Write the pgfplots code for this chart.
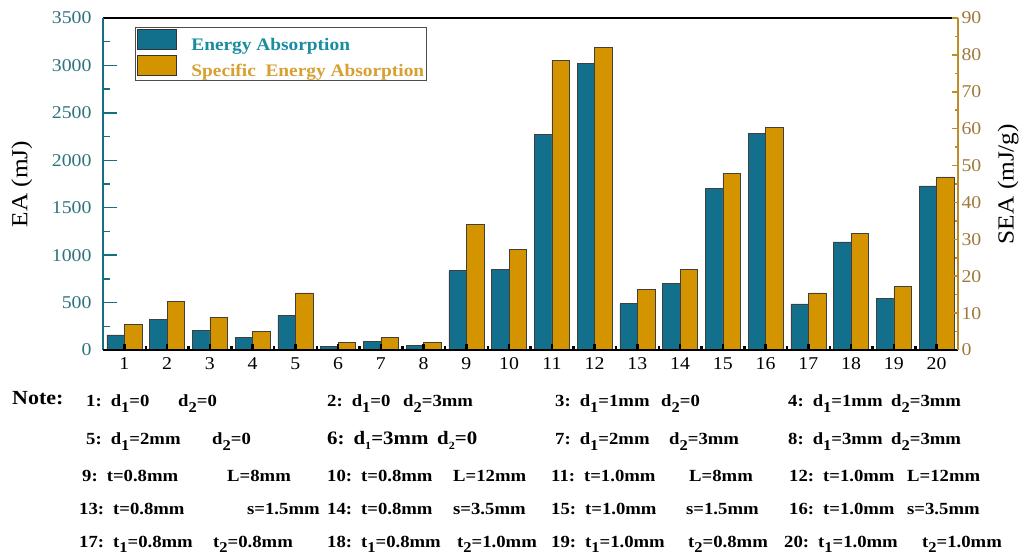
\documentclass[border=0pt]{standalone}
\usepackage{fontspec}
\setmainfont{Liberation Serif}[FakeStretch=1.1]
\usepackage{pgfplots}
\usepackage{pgfplotstable}
\pgfplotsset{compat=1.18}

\definecolor{eaC}{RGB}{18,112,140}
\definecolor{seaC}{RGB}{212,148,0}
\definecolor{eaAx}{RGB}{20,112,128}
\definecolor{eaTxt}{RGB}{45,115,125}
\definecolor{seaAx}{RGB}{190,140,40}
\definecolor{seaTxt}{RGB}{160,120,60}
\definecolor{eaLeg}{RGB}{25,140,160}
\definecolor{seaLeg}{RGB}{215,160,50}

\newcommand\fs[1]{\fontsize{#1}{#1}\selectfont}
\newcommand\sub[1]{\raisebox{-0.32em}{\fs{15}#1}}
\newcommand\subs[1]{\raisebox{-0.25em}{\fs{11}#1}}

\pgfplotstableread{
x  ea    sea
1  160   7.0
2  320   13.1
3  205   8.9
4  130   5.1
5  365   15.5
6  40    2.0
7  90    3.4
8  50    2.0
9  835   34.1
10 850   27.3
11 2270  78.6
12 3020  82.1
13 490   16.5
14 700   21.9
15 1700  47.8
16 2285  60.3
17 485   15.5
18 1140  31.5
19 540   17.2
20 1730  46.9
}\datatable

\begin{document}
\begin{tikzpicture}[x=1pt,y=1pt]
\useasboundingbox (0pt,0pt) rectangle (1019pt,551pt);
\begin{axis}[
  at={(103pt,201pt)}, anchor=south west,
  width=855pt, height=332pt, scale only axis,
  xmin=0.5, xmax=20.5, ymin=0, ymax=3500,
  separate axis lines,
  axis x line*=box, axis y line*=left,
  x axis line style={black, line width=2pt, -},
  y axis line style={eaAx, line width=2pt, -},
  tick align=inside,
  xtick={1,...,20}, xtick pos=left, minor x tick num=1,
  xtick style={black, line width=2.5pt, /pgfplots/major tick length=6pt, /pgfplots/minor tick length=4pt},
  ytick={0,500,...,3500}, ytick pos=left, minor y tick num=1,
  ytick style={eaAx, line width=1.5pt, /pgfplots/major tick length=14pt, /pgfplots/minor tick length=7pt},
  /pgf/number format/assume math mode=true,
  /pgf/number format/1000 sep={},
  xticklabel style={font=\fs{18}, black, yshift=-4pt},
  yticklabel style={font=\fs{18}, eaTxt, xshift=-8pt},
  ylabel={EA (mJ)},
  ylabel style={font=\fs{23}, black, at={(axis description cs:-0.095,0.5)}, anchor=center},
  axis on top,
]
\addplot[ybar, bar width=17.5pt, bar shift=-8.75pt, fill=eaC, draw=black!75, line width=0.6pt]
  table[x=x, y=ea]{\datatable};
\end{axis}

\begin{axis}[
  at={(103pt,201pt)}, anchor=south west,
  width=855pt, height=332pt, scale only axis,
  xmin=0.5, xmax=20.5, ymin=0, ymax=90,
  separate axis lines,
  axis x line*=bottom, axis y line*=right,
  x axis line style={black, line width=2pt, -},
  y axis line style={seaAx, line width=2pt, -},
  tick align=inside,
  xtick={1,...,20}, xticklabels={}, xtick pos=left, minor x tick num=1,
  xtick style={black, line width=2.5pt, /pgfplots/major tick length=6pt, /pgfplots/minor tick length=4pt},
  ytick={0,10,...,90}, ytick pos=right, yticklabel pos=right, minor y tick num=1,
  ytick style={seaAx, line width=1.5pt, /pgfplots/major tick length=6pt, /pgfplots/minor tick length=3pt},
  /pgf/number format/assume math mode=true,
  yticklabel style={font=\fs{18}, seaTxt},
  ylabel={SEA (mJ/g)},
  ylabel style={font=\fs{23}, black, at={(axis description cs:1.0585,0.5)}, anchor=center},
  axis on top,
  legend image code/.code={\draw[#1, draw=black!80, line width=0.8pt] (0pt,-4.5pt) rectangle (39pt,15.5pt); \path (53pt,0pt);},
  legend style={at={(axis description cs:0.0374,0.973)}, anchor=north west,
    draw=black!70, line width=1pt, inner xsep=2pt, inner ysep=2pt, row sep=3pt,
    font=\bfseries\fs{17.6}, cells={anchor=west}, nodes={inner sep=0pt}},
]
\addlegendimage{fill=eaC}
\addlegendentry{\textcolor{eaLeg}{Energy Absorption}}
\addlegendimage{fill=seaC}
\addlegendentry{\textcolor{seaLeg}{Specific\ \ Energy Absorption}}
\addplot[ybar, bar width=17.5pt, bar shift=8.75pt, fill=seaC, draw=black!75, line width=0.6pt, forget plot]
  table[x=x, y=sea]{\datatable};
\end{axis}

\begin{scope}[every node/.style={anchor=base west, inner sep=0pt, font=\bfseries\fs{17}}]
\node[font=\bfseries\fs{20}] at (12pt,146pt) {Note:};
% row 1
\node at (86pt,144pt) {1:\hspace{9pt}d\sub{1}=0};
\node at (178pt,144pt) {d\sub{2}=0};
\node at (327pt,144pt) {2:\hspace{9pt}d\sub{1}=0};
\node at (403pt,144pt) {d\sub{2}=3mm};
\node at (555pt,144pt) {3:\hspace{9pt}d\sub{1}=1mm};
\node at (661pt,144pt) {d\sub{2}=0};
\node at (788pt,144pt) {4:\hspace{9pt}d\sub{1}=1mm};
\node at (891pt,144pt) {d\sub{2}=3mm};
% row 2
\node at (86pt,106pt) {5:\hspace{9pt}d\sub{1}=2mm};
\node at (212pt,106pt) {d\sub{2}=0};
\node[font=\bfseries\fs{19}] at (327pt,106pt) {6:\hspace{9pt}d\subs{1}=3mm};
\node[font=\bfseries\fs{19}] at (437pt,106pt) {d\subs{2}=0};
\node at (555pt,106pt) {7:\hspace{9pt}d\sub{1}=2mm};
\node at (669pt,106pt) {d\sub{2}=3mm};
\node at (788pt,106pt) {8:\hspace{9pt}d\sub{1}=3mm};
\node at (891pt,106pt) {d\sub{2}=3mm};
% row 3
\node at (82pt,69pt) {9:\hspace{9pt}t=0.8mm};
\node at (227pt,69pt) {L=8mm};
\node at (327pt,69pt) {10:\hspace{9pt}t=0.8mm};
\node at (453pt,69pt) {L=12mm};
\node at (551pt,69pt) {11:\hspace{9pt}t=1.0mm};
\node at (689pt,69pt) {L=8mm};
\node at (789pt,69pt) {12:\hspace{9pt}t=1.0mm};
\node at (907pt,69pt) {L=12mm};
% row 4
\node at (79pt,36pt) {13:\hspace{9pt}t=0.8mm};
\node at (247pt,36pt) {s=1.5mm};
\node at (327pt,36pt) {14:\hspace{9pt}t=0.8mm};
\node at (453pt,36pt) {s=3.5mm};
\node at (551pt,36pt) {15:\hspace{9pt}t=1.0mm};
\node at (686pt,36pt) {s=1.5mm};
\node at (789pt,36pt) {16:\hspace{9pt}t=1.0mm};
\node at (907pt,36pt) {s=3.5mm};
% row 5
\node at (79pt,4pt) {17:\hspace{9pt}t\sub{1}=0.8mm};
\node at (213pt,4pt) {t\sub{2}=0.8mm};
\node at (327pt,4pt) {18:\hspace{9pt}t\sub{1}=0.8mm};
\node at (457pt,4pt) {t\sub{2}=1.0mm};
\node at (551pt,4pt) {19:\hspace{9pt}t\sub{1}=1.0mm};
\node at (688pt,4pt) {t\sub{2}=0.8mm};
\node at (784pt,4pt) {20:\hspace{9pt}t\sub{1}=1.0mm};
\node at (922pt,4pt) {t\sub{2}=1.0mm};
\end{scope}
\end{tikzpicture}
\end{document}
